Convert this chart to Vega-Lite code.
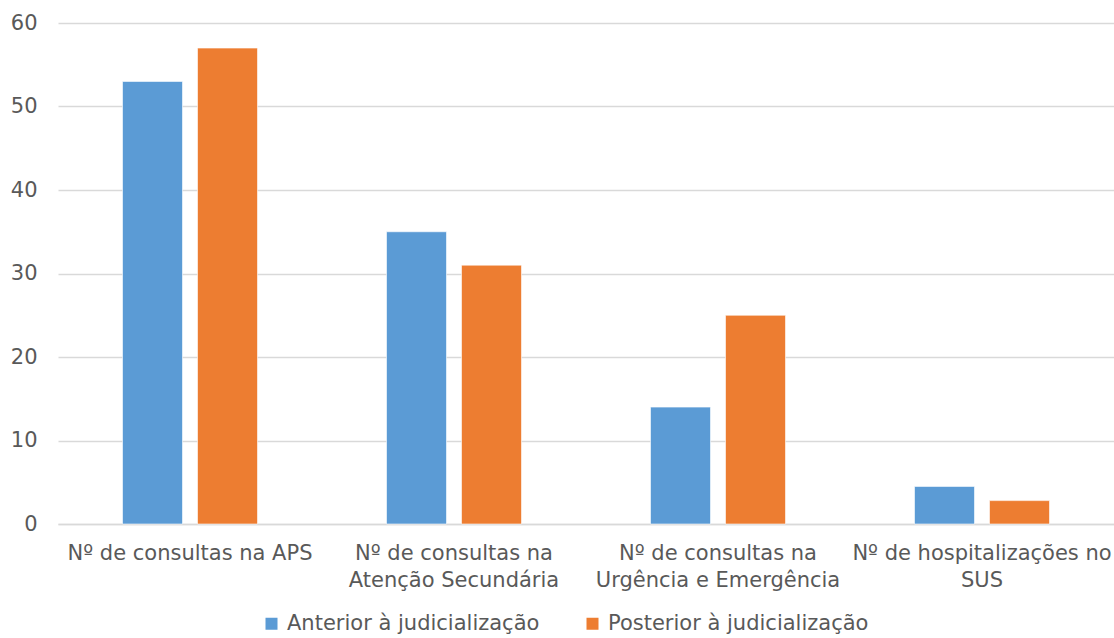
{
  "$schema": "https://vega.github.io/schema/vega-lite/v6.json",
  "width": 1056,
  "height": 501,
  "autosize": "none",
  "padding": {"left": 58, "top": 23, "right": 0, "bottom": 114},
  "background": "white",
  "config": {
    "font": "DejaVu Sans",
    "view": {"stroke": null}
  },
  "data": {
    "values": [
      {"categoria": "Nº de consultas na APS", "periodo": "Anterior à judicialização", "valor": 53},
      {"categoria": "Nº de consultas na APS", "periodo": "Posterior à judicialização", "valor": 57},
      {"categoria": "Nº de consultas na|Atenção Secundária", "periodo": "Anterior à judicialização", "valor": 35},
      {"categoria": "Nº de consultas na|Atenção Secundária", "periodo": "Posterior à judicialização", "valor": 31},
      {"categoria": "Nº de consultas na|Urgência e Emergência", "periodo": "Anterior à judicialização", "valor": 14},
      {"categoria": "Nº de consultas na|Urgência e Emergência", "periodo": "Posterior à judicialização", "valor": 25},
      {"categoria": "Nº de hospitalizações no|SUS", "periodo": "Anterior à judicialização", "valor": 4.5},
      {"categoria": "Nº de hospitalizações no|SUS", "periodo": "Posterior à judicialização", "valor": 2.8}
    ]
  },
  "mark": {"type": "bar", "stroke": "white", "strokeWidth": 0.6},
  "encoding": {
    "x": {
      "field": "categoria",
      "type": "nominal",
      "sort": null,
      "scale": {"paddingInner": 0, "paddingOuter": 0},
      "axis": {
        "title": null,
        "labelAngle": 0,
        "labelExpr": "split(datum.label, '|')",
        "labelFontSize": 21,
        "labelColor": "#595959",
        "labelPadding": 18,
        "labelLineHeight": 27,
        "labelBaseline": "top",
        "ticks": false,
        "domainColor": "#D9D9D9",
        "domainWidth": 1.5,
        "labelLimit": 400
      }
    },
    "xOffset": {
      "field": "periodo",
      "type": "nominal",
      "scale": {"paddingInner": 0.2, "paddingOuter": 0.86}
    },
    "y": {
      "field": "valor",
      "type": "quantitative",
      "scale": {"domain": [0, 60], "nice": false},
      "axis": {
        "title": null,
        "values": [0, 10, 20, 30, 40, 50, 60],
        "labelFontSize": 21,
        "labelColor": "#595959",
        "labelPadding": 21,
        "ticks": false,
        "domain": false,
        "gridColor": "#D9D9D9",
        "gridWidth": 1.5
      }
    },
    "color": {
      "field": "periodo",
      "type": "nominal",
      "scale": {
        "domain": ["Anterior à judicialização", "Posterior à judicialização"],
        "range": ["#5B9BD5", "#ED7D31"]
      },
      "legend": {
        "title": null,
        "orient": "none",
        "direction": "horizontal",
        "legendX": 203,
        "legendY": 590,
        "symbolType": "square",
        "symbolSize": 144,
        "symbolStrokeWidth": 0,
        "labelFontSize": 21,
        "labelColor": "#595959",
        "labelOffset": 5,
        "columnPadding": 42,
        "labelLimit": 400
      }
    }
  }
}
